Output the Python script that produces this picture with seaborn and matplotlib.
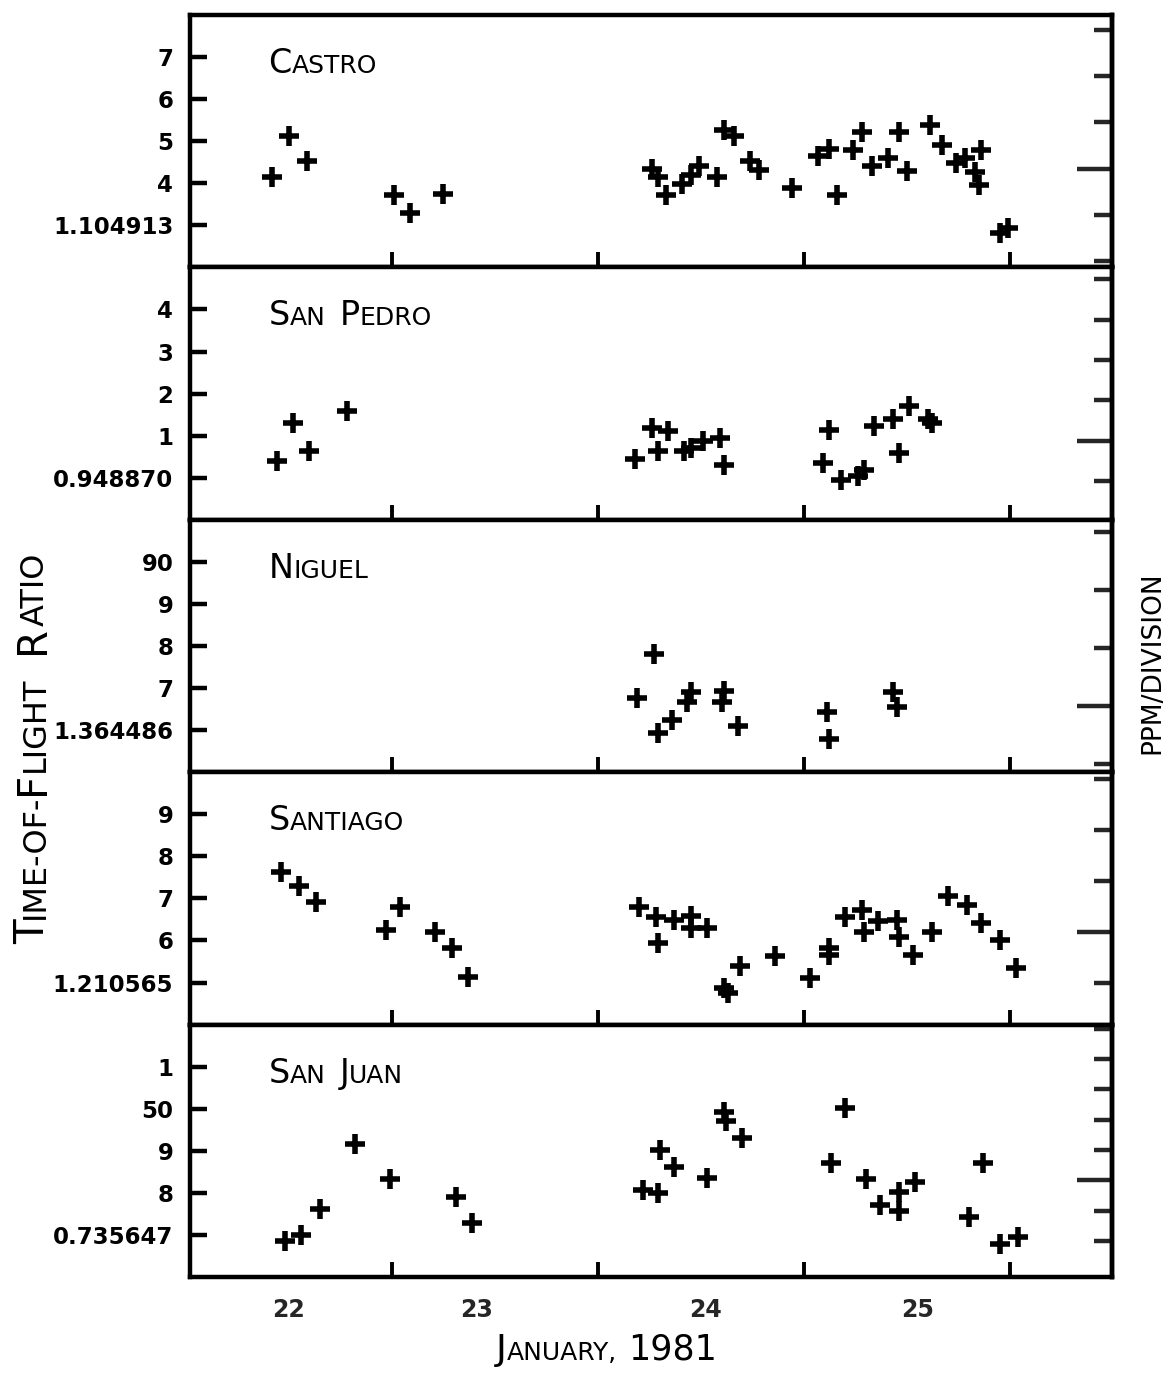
import matplotlib
matplotlib.use("Agg")
import matplotlib.pyplot as plt
import numpy as np
import pandas as pd
import seaborn as sns

# time-of-flight ratio readings, Jan 22-26 1981 (y in chart divisions)
stations = ["CASTRO", "SAN PEDRO", "NIGUEL", "SANTIAGO", "SAN JUAN"]

castro_day = [22.42, 22.50, 22.59, 23.01, 23.09, 23.25, 24.26, 24.29, 24.33, 24.41, 24.45, 24.49,
              24.58, 24.61, 24.66, 24.74, 24.78, 24.94, 25.07, 25.12, 25.16, 25.24, 25.28, 25.33,
              25.41, 25.46, 25.50, 25.61, 25.67, 25.74, 25.78, 25.86, 25.83, 25.85, 25.95, 25.99]
castro_div = [2.16, 3.13, 2.54, 1.72, 1.29, 1.74, 2.33, 2.16, 1.72, 1.98, 2.19, 2.42,
              2.16, 3.27, 3.13, 2.52, 2.31, 1.88, 2.66, 2.82, 1.72, 2.80, 3.22, 2.42,
              2.61, 3.22, 2.28, 3.39, 2.92, 2.49, 2.61, 2.78, 2.26, 1.95, 0.82, 0.94]

san_pedro_day = [22.44, 22.52, 22.60, 22.78, 24.18, 24.26, 24.29, 24.34, 24.42, 24.45, 24.51, 24.59,
                 24.61, 25.09, 25.12, 25.18, 25.26, 25.29, 25.34, 25.43, 25.46, 25.51, 25.60, 25.62]
san_pedro_div = [1.40, 2.31, 1.64, 2.58, 1.45, 2.19, 1.64, 2.12, 1.64, 1.71, 1.88, 1.95,
                 1.30, 1.35, 2.14, 0.94, 1.04, 1.18, 2.24, 2.39, 1.59, 2.70, 2.39, 2.29]

niguel_day = [24.19, 24.27, 24.29, 24.36, 24.43, 24.45, 24.60, 24.61, 24.68, 25.11, 25.12, 25.43, 25.45]
niguel_div = [1.76, 2.80, 0.94, 1.23, 1.66, 1.90, 1.66, 1.93, 1.11, 1.42, 0.80, 1.90, 1.54]

santiago_day = [22.46, 22.55, 22.63, 22.97, 23.04, 23.21, 23.29, 23.37, 24.20, 24.28, 24.29, 24.37,
                24.45, 24.45, 24.53, 24.61, 24.63, 24.69, 24.86, 25.03, 25.12, 25.12, 25.20, 25.28,
                25.29, 25.36, 25.45, 25.46, 25.53, 25.62, 25.70, 25.79, 25.86, 25.95, 26.03]
santiago_div = [3.63, 3.29, 2.91, 2.25, 2.80, 2.20, 1.82, 1.14, 2.80, 2.56, 1.94, 2.49,
                2.58, 2.30, 2.30, 0.88, 0.76, 1.40, 1.64, 1.11, 1.82, 1.66, 2.56, 2.73,
                2.20, 2.46, 2.49, 2.09, 1.66, 2.20, 3.06, 2.84, 2.42, 2.01, 1.35]

san_juan_day = [22.48, 22.56, 22.65, 22.82, 22.99, 23.31, 23.39, 24.22, 24.29, 24.30, 24.37, 24.53,
                24.61, 24.62, 24.70, 25.13, 25.20, 25.30, 25.37, 25.46, 25.46, 25.54, 25.80, 25.87,
                25.95, 26.04]
san_juan_div = [0.85, 0.99, 1.61, 3.17, 2.32, 1.89, 1.28, 2.06, 1.99, 3.03, 2.62, 2.36,
                3.92, 3.71, 3.31, 2.70, 4.02, 2.34, 1.70, 2.01, 1.56, 2.27, 1.42, 2.70,
                0.78, 0.95]

# left tick labels, bottom to top
castro_labels = ["1.104913", "4", "5", "6", "7"]
san_pedro_labels = ["0.948870", "1", "2", "3", "4"]
niguel_labels = ["1.364486", "7", "8", "9", "90"]
santiago_labels = ["1.210565", "6", "7", "8", "9"]
san_juan_labels = ["0.735647", "8", "9", "50", "1"]

day_labels = ["22", "23", "24", "25"]

series = [(castro_day, castro_div, castro_labels),
          (san_pedro_day, san_pedro_div, san_pedro_labels),
          (niguel_day, niguel_div, niguel_labels),
          (santiago_day, santiago_div, santiago_labels),
          (san_juan_day, san_juan_div, san_juan_labels)]

# ppm/division scale ticks on the right side (long one, then short ones)
right_long = [2.35, 1.88, 1.57, 2.20, 2.30]
right_short = [[0.15, 1.25, 3.45, 4.55, 5.65],
               [0.92, 2.84, 3.80, 4.76, 5.72],
               [0.19, 2.95, 4.33, 5.71],
               [0.99, 3.41, 4.62, 5.83],
               [0.86, 1.58, 3.02, 3.74, 4.46, 5.18, 5.90]]

sns.set_theme(style="white")
plt.rcParams["font.family"] = ["DejaVu Sans"]
plt.rcParams["axes.edgecolor"] = "black"
plt.rcParams["axes.linewidth"] = 3.0

BIG, SMALL = 24, 18


def caps_text(ax, x, y, pieces, transform, rotation=0, weight="normal"):
    # fake small caps: chain pieces so the baselines line up
    txt, size, _ = pieces[0]
    if rotation == 0:
        prev = ax.text(x, y, txt, fontsize=size, transform=transform, fontweight=weight,
                       ha="left", va="baseline", color="black")
    else:
        prev = ax.text(x, y, txt, fontsize=size, transform=transform, rotation=90,
                       fontweight=weight, rotation_mode="anchor", ha="left",
                       va="baseline", color="black")
    for txt, size, gap in pieces[1:]:
        if rotation == 0:
            prev = ax.annotate(txt, xy=(1, y), xycoords=(prev, transform),
                               xytext=(gap, 0), textcoords="offset points",
                               fontsize=size, fontweight=weight, ha="left",
                               va="baseline", color="black", annotation_clip=False)
        else:
            prev = ax.annotate(txt, xy=(x, 1), xycoords=(transform, prev),
                               xytext=(0, gap), textcoords="offset points",
                               fontsize=size, fontweight=weight, rotation=90,
                               rotation_mode="anchor", ha="left", va="baseline",
                               color="black", annotation_clip=False)
    return prev


def word_pieces(name, big, small, gap=10):
    out = []
    for i, w in enumerate(name.split(" ")):
        out.append((w[0], big, gap if i else 0))
        if len(w) > 1:
            out.append((w[1:], small, 0))
    return out


fig, axes = plt.subplots(5, 1, figsize=(11.75, 13.73), dpi=100)
fig.subplots_adjust(left=190 / 1175, right=1112 / 1175,
                    top=1 - 15 / 1373, bottom=1 - 1277 / 1373, hspace=0)

for i, (ax, (days, divs, labels)) in enumerate(zip(axes, series)):
    df = pd.DataFrame({"day": days, "div": divs})
    sns.scatterplot(data=df, x="day", y="div", ax=ax, marker="+", color="black",
                    s=210, linewidth=4.0, zorder=3)
    ax.set_xlim(22.02, 26.495)
    ax.set_ylim(0, 6)
    ax.set_xlabel("")
    ax.set_ylabel("")

    ax.set_yticks([1, 2, 3, 4, 5], labels=labels)
    ax.tick_params(axis="y", direction="in", length=12, width=3.2, pad=12,
                   labelsize=16.5, left=True, right=False, colors="black")
    for lab in ax.get_yticklabels():
        lab.set_fontweight("bold")

    ax.set_xticks([23, 24, 25, 26], labels=["", "", "", ""])
    ax.tick_params(axis="x", which="major", direction="in", length=11, width=2.8,
                   bottom=True, top=False, colors="black")
    if i == 4:
        ax.set_xticks([22.5, 23.41, 24.52, 25.55], labels=day_labels, minor=True)
        ax.tick_params(axis="x", which="minor", length=0, pad=15, labelsize=17)
        for lab in ax.get_xticklabels(minor=True):
            lab.set_fontweight("bold")
    else:
        ax.tick_params(axis="x", which="minor", length=0, labelbottom=False)

    for sp in ax.spines.values():
        sp.set_visible(True)
        sp.set_linewidth(3.2)
        sp.set_color("black")

    sec = ax.secondary_yaxis("right")
    sec.set_yticks([right_long[i]], labels=[""])
    sec.set_yticks(right_short[i], labels=[""] * len(right_short[i]), minor=True)
    sec.tick_params(which="major", direction="in", length=25, width=3.2)
    sec.tick_params(which="minor", direction="in", length=13, width=3.2)
    sec.spines["right"].set_linewidth(3.2)

    caps_text(ax, 0.085, 0.77, word_pieces(stations[i], BIG, SMALL), ax.transAxes)

# axis titles
ylab = [("T", 29, 0), ("IME-OF-", 23, 0), ("F", 29, 0), ("LIGHT", 23, 0),
        ("R", 29, 16), ("ATIO", 23, 0)]
caps_text(axes[2], 44 / 1175, 1 - 944 / 1373, ylab, fig.transFigure, rotation=90)

xlab = [("J", 26, 0), ("ANUARY,", 18, 0), ("1981", 25, 8)]
caps_text(axes[4], 496 / 1175, 1 - 1360 / 1373, xlab, fig.transFigure)

fig.text(1152 / 1175, 1 - 663 / 1373, "PPM/DIVISION", rotation=90,
         ha="center", va="center", fontsize=19, color="black")

fig.savefig("out.png", dpi=100, facecolor="white")
